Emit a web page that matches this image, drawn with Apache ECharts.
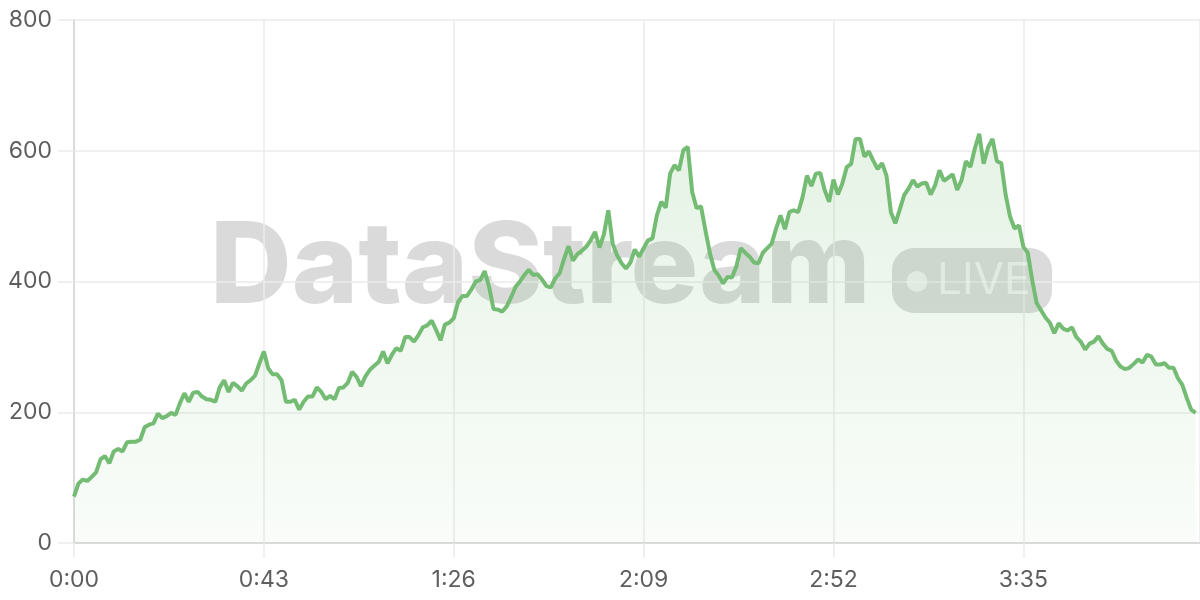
<!DOCTYPE html>
<html>
<head>
<meta charset="utf-8">
<script src="https://cdn.jsdelivr.net/npm/echarts@6/dist/echarts.min.js"></script>
<style>
html,body{margin:0;padding:0;background:#fff;}
#chart{width:1200px;height:600px;}
</style>
</head>
<body>
<div id="chart"></div>
<script>
// one sample per second, starting at 0:00
const values = [
  71,91,97,95,101,108,128,133,122,140,144,140,154,155,155,158,177,181,183,198,
  191,194,199,196,214,229,216,230,231,224,220,219,216,238,249,231,245,240,233,244,
  249,256,275,293,267,258,258,249,216,216,219,204,216,224,224,238,231,220,225,220,
  237,238,245,262,254,240,255,265,271,277,293,275,288,298,294,315,315,308,318,330,
  333,340,326,310,334,337,344,369,378,378,388,400,402,416,392,358,357,354,362,376,
  392,400,410,418,410,411,403,393,391,405,413,435,454,432,442,447,453,463,476,452,
  472,509,458,440,428,420,429,449,438,451,463,466,501,522,513,565,578,570,601,606,
  537,512,515,478,444,418,409,397,407,406,423,451,444,438,429,428,444,451,458,481,
  501,480,506,509,506,529,562,546,565,566,540,522,556,533,550,575,580,618,618,591,
  599,585,572,581,562,506,489,510,532,542,555,545,550,551,533,547,570,554,559,564,
  540,555,584,575,603,626,580,605,618,584,581,532,499,481,486,453,444,402,367,356,
  345,337,321,336,328,325,330,315,308,296,305,308,316,305,297,294,279,270,266,268,
  274,281,276,288,285,273,273,275,268,268,252,242,222,204,199
];
const xTickSeconds = [0, 43, 86, 129, 172, 215];
const yTicks = [0, 200, 400, 600, 800];
const watermarkMain = 'DataStream';
const watermarkBadge = 'LIVE';

function fmtTime(s) {
  const m = Math.floor(s / 60);
  const ss = Math.round(s % 60);
  return m + ':' + String(ss).padStart(2, '0');
}

const seriesData = values.map((v, i) => [i, v]);

const chart = echarts.init(document.getElementById('chart'), null, {renderer: 'canvas'});
const gridColor = '#ebebeb';
const axisColor = '#d4d4d4';
const labelFont = 'Inter, "Noto Sans", sans-serif';

chart.setOption({
  animation: false,
  backgroundColor: '#ffffff',
  grid: {left: 74, right: 0, top: 20, bottom: 57, containLabel: false},
  xAxis: {
    type: 'value',
    min: xTickSeconds[0],
    max: 255,
    interval: xTickSeconds[1] - xTickSeconds[0],
    axisLine: {show: true, lineStyle: {color: axisColor, width: 1.5}},
    axisTick: {show: true, length: 15, lineStyle: {color: gridColor, width: 1.5}},
    splitLine: {show: true, lineStyle: {color: gridColor, width: 1.5}},
    axisLabel: {
      color: '#5e5e5e', fontSize: 23, fontFamily: labelFont, margin: 26,
      showMaxLabel: false,
      formatter: v => xTickSeconds.indexOf(v) >= 0 ? fmtTime(v) : ''
    }
  },
  yAxis: {
    type: 'value',
    min: yTicks[0],
    max: yTicks[yTicks.length - 1],
    interval: yTicks[1] - yTicks[0],
    axisLine: {show: true, lineStyle: {color: axisColor, width: 1.5}},
    axisTick: {show: true, length: 16, lineStyle: {color: gridColor, width: 1.5}},
    splitLine: {show: true, lineStyle: {color: gridColor, width: 1.5}},
    axisLabel: {color: '#5e5e5e', fontSize: 23, fontFamily: labelFont, margin: 22}
  },
  graphic: [
    {
      type: 'text', z: 0, left: 210, top: 213,
      style: {
        text: watermarkMain,
        font: '800 113px Inter, "Noto Sans", sans-serif',
        fill: 'rgba(0,0,0,0.145)'
      }
    },
    {
      type: 'rect', z: 0,
      shape: {x: 892, y: 248, width: 160, height: 65, r: 22},
      style: {fill: 'rgba(0,0,0,0.14)'}
    },
    {
      type: 'circle', z: 1,
      shape: {cx: 917, cy: 281.5, r: 10.5},
      style: {fill: 'rgba(255,255,255,0.6)'}
    },
    {
      type: 'text', z: 1, x: 937, y: 281,
      style: {
        text: watermarkBadge,
        font: '400 44px Inter, "Noto Sans", sans-serif',
        fill: 'rgba(255,255,255,0.6)',
        verticalAlign: 'middle'
      }
    }
  ],
  series: [{
    type: 'line',
    data: seriesData,
    smooth: false,
    showSymbol: false,
    z: 5,
    lineStyle: {color: '#74bc74', width: 4},
    itemStyle: {color: '#74bc74'},
    areaStyle: {
      color: new echarts.graphic.LinearGradient(0, 0, 0, 1, [
        {offset: 0, color: 'rgba(116,188,116,0.26)'},
        {offset: 1, color: 'rgba(116,188,116,0.06)'}
      ])
    }
  }]
});
</script>
</body>
</html>
